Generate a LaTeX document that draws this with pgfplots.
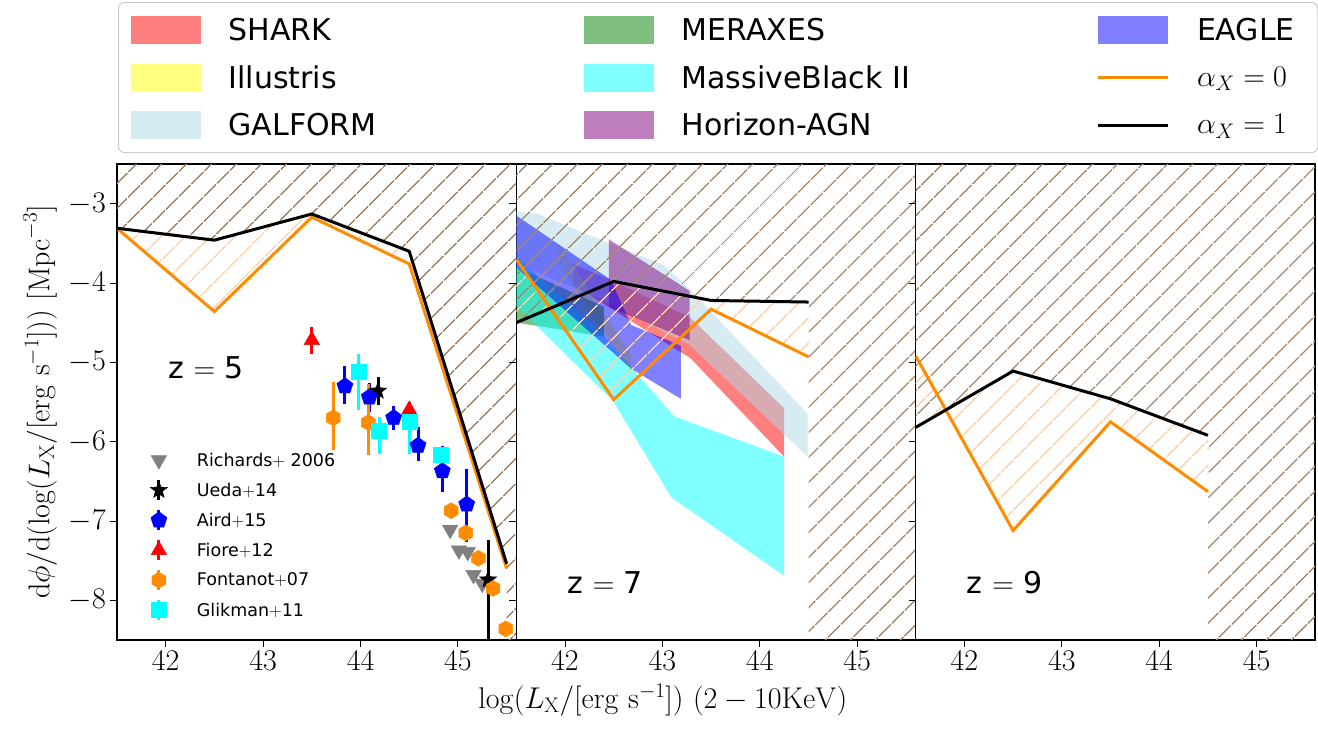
\RequirePackage{fix-cm}
\documentclass[border=0pt]{standalone}
\usepackage[no-math]{fontspec}
\setmainfont{DejaVu Sans}
\usepackage{pgfplots}
\pgfplotsset{compat=1.18}
\usetikzlibrary{patterns.meta}

\definecolor{hatchbrown}{RGB}{160,130,100}
\definecolor{lorange}{RGB}{255,208,165}
\definecolor{dorange}{RGB}{255,140,0}
\definecolor{lblue}{RGB}{173,216,230}
\definecolor{mgreen}{RGB}{0,128,0}
\definecolor{mpurple}{RGB}{128,0,128}
\definecolor{mgrey}{RGB}{128,128,128}
\definecolor{mred}{RGB}{255,0,0}
\definecolor{mblue}{RGB}{0,0,255}
\definecolor{mcyan}{RGB}{0,255,255}
\definecolor{myellow}{RGB}{255,255,0}

\pgfdeclareplotmark{fstar}{%
  \pgfpathmoveto{\pgfpointpolar{90}{\pgfplotmarksize}}%
  \pgfpathlineto{\pgfpointpolar{126}{0.42\pgfplotmarksize}}%
  \pgfpathlineto{\pgfpointpolar{162}{\pgfplotmarksize}}%
  \pgfpathlineto{\pgfpointpolar{198}{0.42\pgfplotmarksize}}%
  \pgfpathlineto{\pgfpointpolar{234}{\pgfplotmarksize}}%
  \pgfpathlineto{\pgfpointpolar{270}{0.42\pgfplotmarksize}}%
  \pgfpathlineto{\pgfpointpolar{306}{\pgfplotmarksize}}%
  \pgfpathlineto{\pgfpointpolar{342}{0.42\pgfplotmarksize}}%
  \pgfpathlineto{\pgfpointpolar{18}{\pgfplotmarksize}}%
  \pgfpathlineto{\pgfpointpolar{54}{0.42\pgfplotmarksize}}%
  \pgfpathclose\pgfusepathqfillstroke}
\pgfdeclareplotmark{hexa}{%
  \pgfpathmoveto{\pgfpointpolar{90}{\pgfplotmarksize}}%
  \pgfpathlineto{\pgfpointpolar{150}{\pgfplotmarksize}}%
  \pgfpathlineto{\pgfpointpolar{210}{\pgfplotmarksize}}%
  \pgfpathlineto{\pgfpointpolar{270}{\pgfplotmarksize}}%
  \pgfpathlineto{\pgfpointpolar{330}{\pgfplotmarksize}}%
  \pgfpathlineto{\pgfpointpolar{30}{\pgfplotmarksize}}%
  \pgfpathclose\pgfusepathqfillstroke}

\newcommand{\bigf}{\fontsize{30}{36}\selectfont}
\pgfplotsset{
  panel/.style={scale only axis, width=399.4pt, height=476pt, anchor=south west,
    xmin=41.5, xmax=45.6, ymin=-8.5, ymax=-2.5,
    xtick={42,43,44,45}, ytick={-8,-7,-6,-5,-4,-3},
    tick align=outside, xtick pos=left, ytick pos=left,
    major tick length=7pt, tick style={line width=1pt, black},
    axis line style={line width=1.3pt},
    tick label style={font=\bigf},
    xticklabel style={inner sep=2pt, yshift=-2pt},
    yticklabel style={inner sep=2pt, xshift=-2pt}},
  brownhatch/.style={draw=none, forget plot, pattern={Lines[angle=45,distance=18.4pt,line width=1.6pt]}, pattern color=hatchbrown},
  orhatch/.style={draw=none, forget plot, pattern={Lines[angle=45,distance=18.4pt,line width=1.6pt]}, pattern color=lorange},
  band/.style={draw=none, fill=#1, fill opacity=0.5, forget plot},
  patchleg/.style={legend image code/.code={\path[draw=none,fill=none] (0pt,-14pt) rectangle (78.25pt,14pt); \fill[##1, sharp corners] (8.25pt,-14pt) rectangle (78.25pt,14pt);}},
  lineleg/.style={legend image code/.code={\path[draw=none,fill=none] (0pt,-14pt) rectangle (78.25pt,14pt); \draw[##1, sharp corners] (8.25pt,0pt) -- (78.25pt,0pt);}},
  datleg/.style={legend image code/.code={\path[draw=none,fill=none] (0pt,-15pt) rectangle (20pt,15pt); \draw[#1, line width=3pt] (10pt,-10pt) -- (10pt,10pt); \draw[##1] plot coordinates {(10pt,0pt)};}},
  markleg/.style={legend image code/.code={\path[draw=none,fill=none] (0pt,-15pt) rectangle (20pt,15pt); \draw[##1] plot coordinates {(10pt,0pt)};}},
  errs/.style={error bars/.cd, y dir=both, y explicit, error mark=none, error bar style={line width=3pt, #1}},
}

\begin{document}
\begin{tikzpicture}
\useasboundingbox (0,0) rectangle (1318pt,732pt);

% ---------------- left panel z=5 ----------------
\begin{axis}[panel, at={(117pt,92pt)},
  every axis y label/.style={at={(axis description cs:-0.1925,0.5)}, rotate=90, anchor=center, font=\bigf},
  ylabel={$\mathrm{d}\phi/\mathrm{d}(\log(L_{\mathrm{X}}/[\mathrm{erg\ s}^{-1}]))\ [\mathrm{Mpc}^{-3}]$},
  legend style={draw=none, fill=none, at={(axis description cs:0.0794,0.4097)}, anchor=north west,
    inner sep=0pt, column sep=0pt, row sep=0pt,
    nodes={inner sep=0pt, minimum height=30pt, font=\fontsize{17.5}{21}\selectfont},
    /tikz/every odd column/.append style={column sep=28pt}},
  legend cell align=left]
\addplot[brownhatch] coordinates {(41.5,-3.31) (42.5,-3.46) (43.5,-3.13) (44.5,-3.60) (45.5,-7.54) (45.5,-8.5) (45.6,-8.5) (45.6,-2.5) (41.5,-2.5)} -- cycle;
\addplot[orhatch] coordinates {(41.5,-3.31) (42.5,-4.36) (43.5,-3.17) (44.5,-3.76) (45.5,-7.6) (45.5,-7.54) (44.5,-3.60) (43.5,-3.13) (42.5,-3.46)} -- cycle;
\addplot[dorange, line width=3pt, forget plot] coordinates {(41.5,-3.31) (42.5,-4.36) (43.5,-3.17) (44.5,-3.76) (45.5,-7.6)};
\addplot[black, line width=3pt, forget plot] coordinates {(41.5,-3.31) (42.5,-3.46) (43.5,-3.13) (44.5,-3.60) (45.5,-7.54)};
% data
\addplot[only marks, mark=triangle*, mark options={rotate=180, fill=mgrey, draw=mgrey}, mark size=9pt, color=mgrey, markleg]
  coordinates {(44.92,-7.11) (45.01,-7.37) (45.10,-7.39) (45.16,-7.68) (45.25,-7.79)};
\addlegendentry{Richards$+$ 2006}
\addplot[only marks, mark=fstar, mark size=9pt, black, datleg=black, errs=black]
  coordinates {(44.18,-5.36) +- (0,0.18) (45.31,-7.74) += (0,0.5) -= (0,1.5)};
\addlegendentry{Ueda$+$14}
\addplot[only marks, mark=pentagon*, mark size=8.5pt, mblue, datleg=mblue, errs=mblue]
  coordinates {(43.84,-5.30) += (0,0.25) -= (0,0.23)
               (44.09,-5.44) +- (0,0.18)
               (44.34,-5.70) +- (0,0.15)
               (44.59,-6.05) += (0,0.23) -= (0,0.19)
               (44.84,-6.37) += (0,0.31) -= (0,0.26)
               (45.09,-6.79) += (0,0.44) -= (0,0.47)};
\addlegendentry{Aird$+$15}
\addplot[only marks, mark=triangle*, mark size=9pt, mred, datleg=mred, errs=mred]
  coordinates {(43.50,-4.72) +- (0,0.17) (44.50,-5.60) +- (0,0.1)};
\addlegendentry{Fiore$+$12}
\addplot[only marks, mark=hexa, mark size=8pt, dorange, datleg=dorange, errs=dorange]
  coordinates {(43.72,-5.70) += (0,0.45) -= (0,0.41)
               (44.08,-5.76) += (0,0.49) -= (0,0.41)
               (44.93,-6.87) +- (0,0)
               (45.08,-7.15) +- (0,0)
               (45.21,-7.47) +- (0,0)
               (45.36,-7.85) +- (0,0)
               (45.49,-8.36) +- (0,0)};
\addlegendentry{Fontanot$+$07}
\addplot[only marks, mark=square*, mark size=7.5pt, mcyan, datleg=mcyan, errs=mcyan]
  coordinates {(43.98,-5.12) += (0,0.22) -= (0,0.48)
               (44.19,-5.86) += (0,0.17) -= (0,0.29)
               (44.50,-5.75) += (0,0.08) -= (0,0.40)
               (44.82,-6.17) +- (0,0.1)};
\addlegendentry{Glikman$+$11}
\node[anchor=west, font=\fontsize{30}{36}\selectfont] at (axis cs:41.99,-5.07) {z $=$ 5};
\end{axis}

% ---------------- middle panel z=7 ----------------
\begin{axis}[panel, at={(516.3pt,92pt)}, yticklabels={},
  every axis x label/.style={at={(axis description cs:0.367,-0.126)}, anchor=center, font=\bigf},
  xlabel={$\log(L_{\mathrm{X}}/[\mathrm{erg\ s}^{-1}])\ (2-10\mathrm{KeV})$},
  legend columns=3,
  legend style={at={(axis description cs:-0.9972,1.3403)}, anchor=north west,
    draw=black!20, line width=1pt, rounded corners=6pt, fill=white,
    inner sep=3.75pt, column sep=0pt, row sep=0pt,
    nodes={inner sep=0pt, minimum height=47.5pt, font=\bigf},
    /tikz/every odd column/.append style={column sep=28pt}},
  legend cell align=left]
% bands (SHARK, Illustris, GALFORM, MERAXES, MassiveBlack II, Horizon-AGN, EAGLE)
\addplot[band=mred] coordinates {(42.08,-3.76) (42.5,-3.98) (43.29,-4.44) (44.25,-5.58) (44.25,-6.19) (43.29,-4.95) (42.08,-4.02)} -- cycle;
\addplot[band=myellow] coordinates {(41.92,-3.48) (42.68,-4.91) (42.68,-5.14) (41.92,-3.72)} -- cycle;
\addplot[band=lblue] coordinates {(41.5,-3.1) (41.72,-3.13) (43.02,-3.78) (43.29,-4.09) (44.49,-5.65) (44.49,-6.19) (43.29,-4.79) (42.45,-4.25) (41.5,-3.75)} -- cycle;
\addplot[band=mgreen] coordinates {(41.5,-3.80) (42.40,-4.30) (42.40,-4.68) (41.92,-4.58) (41.5,-4.50)} -- cycle;
\addplot[band=mcyan] coordinates {(41.5,-3.67) (42.35,-4.6) (43.12,-5.68) (44.25,-6.19) (44.25,-7.69) (43.09,-6.70) (42.49,-5.48) (41.5,-4.29)} -- cycle;
\addplot[band=mpurple] coordinates {(42.45,-3.45) (43.28,-4.10) (43.28,-4.72) (42.45,-4.30)} -- cycle;
\addplot[band=mblue] coordinates {(41.5,-3.15) (42.47,-3.96) (42.68,-4.53) (43.19,-4.79) (43.19,-5.46) (42.68,-5.08) (41.5,-3.80)} -- cycle;
% hatches
\addplot[brownhatch] coordinates {(41.5,-4.50) (42.5,-3.98) (43.5,-4.22) (44.5,-4.24) (44.5,-8.5) (45.6,-8.5) (45.6,-2.5) (41.5,-2.5)} -- cycle;
\addplot[orhatch] coordinates {(41.5,-3.70) (42.5,-5.47) (43.5,-4.33) (44.5,-4.93) (44.5,-4.24) (43.5,-4.22) (42.5,-3.98) (41.5,-4.50)} -- cycle;
\addplot[dorange, line width=3pt, forget plot] coordinates {(41.5,-3.70) (42.5,-5.47) (43.5,-4.33) (44.5,-4.93)};
\addplot[black, line width=3pt, forget plot] coordinates {(41.5,-4.50) (42.5,-3.98) (43.5,-4.22) (44.5,-4.24)};
\node[anchor=west, font=\fontsize{30}{36}\selectfont] at (axis cs:41.99,-7.77) {z $=$ 7};
% legend
\addlegendimage{patchleg, fill=mred, fill opacity=0.5, draw=none}
\addlegendentry{\makebox[346.75pt][l]{SHARK}}
\addlegendimage{patchleg, fill=mgreen, fill opacity=0.5, draw=none}
\addlegendentry{\makebox[407.75pt][l]{MERAXES}}
\addlegendimage{patchleg, fill=mblue, fill opacity=0.5, draw=none}
\addlegendentry{\makebox[117pt][l]{EAGLE}}
\addlegendimage{patchleg, fill=myellow, fill opacity=0.5, draw=none}
\addlegendentry{\makebox[346.75pt][l]{Illustris}}
\addlegendimage{patchleg, fill=mcyan, fill opacity=0.5, draw=none}
\addlegendentry{\makebox[407.75pt][l]{MassiveBlack II}}
\addlegendimage{lineleg, dorange, line width=3pt}
\addlegendentry{\makebox[117pt][l]{$\alpha_X=0$}}
\addlegendimage{patchleg, fill=lblue, fill opacity=0.5, draw=none}
\addlegendentry{\makebox[346.75pt][l]{GALFORM}}
\addlegendimage{patchleg, fill=mpurple, fill opacity=0.5, draw=none}
\addlegendentry{\makebox[407.75pt][l]{Horizon-AGN}}
\addlegendimage{lineleg, black, line width=3pt}
\addlegendentry{\makebox[117pt][l]{$\alpha_X=1$}}
\end{axis}

% ---------------- right panel z=9 ----------------
\begin{axis}[panel, at={(915.7pt,92pt)}, yticklabels={}]
\addplot[brownhatch] coordinates {(41.5,-5.82) (42.5,-5.11) (43.5,-5.46) (44.5,-5.92) (44.5,-8.5) (45.6,-8.5) (45.6,-2.5) (41.5,-2.5)} -- cycle;
\addplot[orhatch] coordinates {(41.5,-4.92) (42.5,-7.12) (43.5,-5.75) (44.5,-6.63) (44.5,-5.92) (43.5,-5.46) (42.5,-5.11) (41.5,-5.82)} -- cycle;
\addplot[dorange, line width=3pt, forget plot] coordinates {(41.5,-4.92) (42.5,-7.12) (43.5,-5.75) (44.5,-6.63)};
\addplot[black, line width=3pt, forget plot] coordinates {(41.5,-5.82) (42.5,-5.11) (43.5,-5.46) (44.5,-5.92)};
\node[anchor=west, font=\fontsize{30}{36}\selectfont] at (axis cs:41.99,-7.77) {z $=$ 9};
\end{axis}
\end{tikzpicture}
\end{document}
